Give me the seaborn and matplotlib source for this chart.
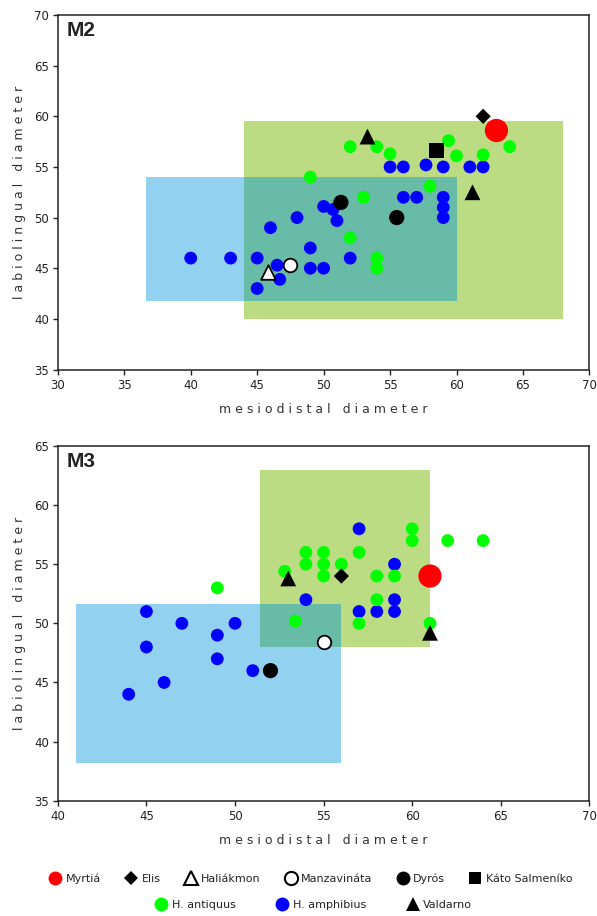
import matplotlib
matplotlib.use("Agg")
import matplotlib.pyplot as plt
import seaborn as sns
from matplotlib.patches import Rectangle
from matplotlib.lines import Line2D

# ---------------- data ----------------
# M2
m2_antiquus_x = [52, 54, 55, 59.4, 60, 62, 64, 49, 58, 53, 52, 54, 54]
m2_antiquus_y = [57, 57, 56.3, 57.6, 56.1, 56.2, 57, 54, 53.1, 52, 48, 46, 45]
m2_amphibius_x = [40, 43, 45, 46.5, 46.7, 45, 46, 48, 49, 49, 50, 50, 50.7, 51, 52,
                  55, 56, 57.7, 59, 61, 62, 56, 57, 59, 59, 59]
m2_amphibius_y = [46, 46, 46, 45.3, 43.9, 43, 49, 50, 47, 45, 45, 51.1, 50.8, 49.7, 46,
                  55, 55, 55.2, 55, 55, 55, 52, 52, 52, 51, 50]
m2_valdarno_x = [53.3, 61.2]
m2_valdarno_y = [58, 52.5]
m2_elis_x = [62]
m2_elis_y = [60]
m2_myrtia_x = [63]
m2_myrtia_y = [58.6]
m2_kato_x = [58.5]
m2_kato_y = [56.6]
m2_dyros_x = [51.3, 55.5]
m2_dyros_y = [51.5, 50]
m2_haliakmon_x = [45.8]
m2_haliakmon_y = [44.6]
m2_manzavinata_x = [47.5]
m2_manzavinata_y = [45.3]
m2_antiquus_range = {"x": (44, 68), "y": (40, 59.5)}
m2_amphibius_range = {"x": (36.6, 60), "y": (41.8, 54)}

# M3
m3_antiquus_x = [49, 53.4, 52.8, 54, 54, 55, 55, 55, 56, 57, 57, 58, 58, 59, 60, 60, 62, 64, 61]
m3_antiquus_y = [53, 50.2, 54.4, 56, 55, 56, 55, 54, 55, 56, 50, 54, 52, 54, 58, 57, 57, 57, 50]
m3_amphibius_x = [45, 47, 49, 50, 45, 49, 51, 46, 44, 54, 57, 57, 58, 59, 59, 59]
m3_amphibius_y = [51, 50, 49, 50, 48, 47, 46, 45, 44, 52, 58, 51, 51, 55, 52, 51]
m3_valdarno_x = [53, 61]
m3_valdarno_y = [53.8, 49.2]
m3_elis_x = [56]
m3_elis_y = [54]
m3_myrtia_x = [61]
m3_myrtia_y = [54]
m3_dyros_x = [52]
m3_dyros_y = [46]
m3_manzavinata_x = [55]
m3_manzavinata_y = [48.4]
m3_antiquus_range = {"x": (51.4, 61), "y": (48, 63)}
m3_amphibius_range = {"x": (41, 56), "y": (38.2, 51.6)}

xlabel_text = "m e s i o d i s t a l   d i a m e t e r"
ylabel_text = "l a b i o l i n g u a l   d i a m e t e r"

# ---------------- style ----------------
sns.set_style("ticks")
plt.rcParams['font.family'] = ['DejaVu Sans']

GREEN = "#00ff00"
BLUE = "#0000ff"
RED = "#ff0000"
RECT_GREEN = "#bbdc82"
RECT_BLUE = "#92d1f0"
RECT_OVER = "#68bba6"

fig = plt.figure(figsize=(5.97, 9.16), dpi=100)
ax1 = fig.add_axes([0.0968, 0.5966, 0.8906, 0.3870])
ax2 = fig.add_axes([0.0968, 0.1259, 0.8906, 0.3872])


def draw_ranges(ax, r_ant, r_amp):
    (gx0, gx1), (gy0, gy1) = r_ant["x"], r_ant["y"]
    (bx0, bx1), (by0, by1) = r_amp["x"], r_amp["y"]
    ax.add_patch(Rectangle((gx0, gy0), gx1 - gx0, gy1 - gy0, facecolor=RECT_GREEN,
                           edgecolor="none", zorder=1))
    ax.add_patch(Rectangle((bx0, by0), bx1 - bx0, by1 - by0, facecolor=RECT_BLUE,
                           edgecolor="none", zorder=1))
    ox0, ox1 = max(gx0, bx0), min(gx1, bx1)
    oy0, oy1 = max(gy0, by0), min(gy1, by1)
    if ox1 > ox0 and oy1 > oy0:
        ax.add_patch(Rectangle((ox0, oy0), ox1 - ox0, oy1 - oy0, facecolor=RECT_OVER,
                               edgecolor="none", zorder=1.5))


def pts(ax, x, y, color, marker, s, ec="none", lw=0, z=3):
    sns.scatterplot(x=x, y=y, ax=ax, color=color, marker=marker, s=s,
                    edgecolor=ec, linewidth=lw, legend=False, zorder=z)


def style_axes(ax, xlim, ylim, label):
    ax.set_xlim(*xlim)
    ax.set_ylim(*ylim)
    ax.set_xticks(range(xlim[0], xlim[1] + 1, 5))
    ax.set_yticks(range(ylim[0], ylim[1] + 1, 5))
    ax.tick_params(axis="both", labelsize=8.5, length=3.5, width=1, color="#222222",
                   labelcolor="#222222", pad=3)
    for sp in ax.spines.values():
        sp.set_visible(True)
        sp.set_color("#222222")
        sp.set_linewidth(1.1)
    ax.set_xlabel(xlabel_text, fontsize=9, color="#333333", labelpad=8)
    ax.set_ylabel(ylabel_text, fontsize=9, color="#333333", labelpad=6)
    ax.text(0.017, 0.983, label, transform=ax.transAxes, ha="left", va="top",
            fontsize=15, fontweight="bold", family=["Liberation Sans", "DejaVu Sans"],
            color="#222222", zorder=10)


# ---- M2 ----
draw_ranges(ax1, m2_antiquus_range, m2_amphibius_range)
pts(ax1, m2_amphibius_x, m2_amphibius_y, BLUE, "o", 85)
pts(ax1, m2_antiquus_x, m2_antiquus_y, GREEN, "o", 85)
pts(ax1, m2_valdarno_x, m2_valdarno_y, "black", "^", 130)
pts(ax1, m2_elis_x, m2_elis_y, "black", "D", 60)
pts(ax1, m2_kato_x, m2_kato_y, "black", "s", 110)
pts(ax1, m2_dyros_x, m2_dyros_y, "black", "o", 120)
pts(ax1, m2_myrtia_x, m2_myrtia_y, RED, "o", 280)
pts(ax1, m2_haliakmon_x, m2_haliakmon_y, "white", "^", 110, ec="black", lw=1.3, z=4)
pts(ax1, m2_manzavinata_x, m2_manzavinata_y, "white", "o", 95, ec="black", lw=1.3, z=4)
style_axes(ax1, (30, 70), (35, 70), "M2")

# ---- M3 ----
draw_ranges(ax2, m3_antiquus_range, m3_amphibius_range)
pts(ax2, m3_amphibius_x, m3_amphibius_y, BLUE, "o", 85)
pts(ax2, m3_antiquus_x, m3_antiquus_y, GREEN, "o", 85)
pts(ax2, m3_valdarno_x, m3_valdarno_y, "black", "^", 130, z=4)
pts(ax2, m3_elis_x, m3_elis_y, "black", "D", 60, z=4)
pts(ax2, m3_dyros_x, m3_dyros_y, "black", "o", 120, z=4)
pts(ax2, m3_myrtia_x, m3_myrtia_y, RED, "o", 280, z=4)
pts(ax2, m3_manzavinata_x, m3_manzavinata_y, "white", "o", 95, ec="black", lw=1.3, z=4)
style_axes(ax2, (40, 70), (35, 65), "M3")

# ---- legend ----
def h(marker, fc, ec="none", ms=9, mew=0):
    return Line2D([], [], linestyle="none", marker=marker, markerfacecolor=fc,
                  markeredgecolor=ec, markersize=ms, markeredgewidth=mew)

row1 = [h("o", RED, ms=10), h("D", "black", ms=7.5), h("^", "white", "black", 10, 1.5),
        h("o", "white", "black", 9.5, 1.5), h("o", "black", ms=10), h("s", "black", ms=9)]
row1_labels = ["Myrtiá", "Elis", "Haliákmon", "Manzavináta", "Dyrós", "Káto Salmeníko"]
row2 = [h("o", GREEN, ms=10), h("o", BLUE, ms=10), h("^", "black", ms=10)]
row2_labels = ["H. antiquus", "H. amphibius", "Valdarno"]

leg1 = fig.legend(row1, row1_labels, loc="center", bbox_to_anchor=(0.521, 0.0404),
                  ncol=6, frameon=False, fontsize=8, handlelength=1.0,
                  handletextpad=0.45, columnspacing=2.2, borderaxespad=0)
leg2 = fig.legend(row2, row2_labels, loc="center", bbox_to_anchor=(0.526, 0.012),
                  ncol=3, frameon=False, fontsize=8, handlelength=1.0,
                  handletextpad=0.45, columnspacing=3.7, borderaxespad=0)
for t in leg1.get_texts() + leg2.get_texts():
    t.set_color("#222222")

fig.savefig("out.png", dpi=100)
